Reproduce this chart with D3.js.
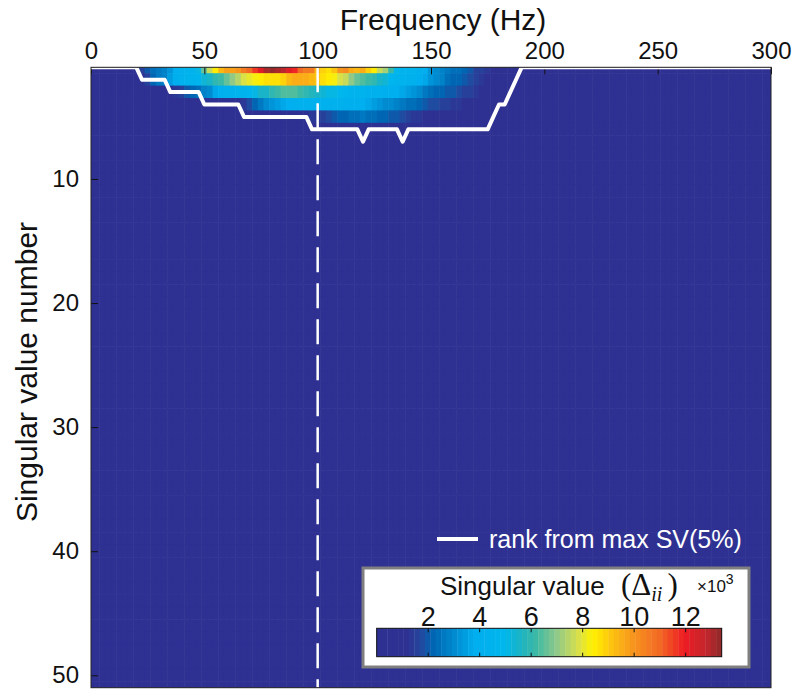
<!DOCTYPE html>
<html>
<head>
<meta charset="utf-8">
<script src="https://cdn.jsdelivr.net/npm/d3@7"></script>
<style>
  body { margin: 0; background: #fff; }
  text { font-family: "Liberation Sans", Arial, Helvetica, sans-serif; fill: #111; }
</style>
</head>
<body>
<svg id="chart" width="793" height="690"></svg>
<script>
// ---- data -------------------------------------------------------------
const freqStep = 2.5;                                   // Hz between bins
const freqs = d3.range(0, 300 + freqStep / 2, freqStep); // bin centres (Hz)
const svNumbers = d3.range(1, 52);                      // singular value index
const bandStart = 15;                                   // Hz of first entry in the rows below
const backgroundSV = 0.4;                               // x10^3, everywhere outside the band

// singular values (x10^3) for SV 1..7, 15 Hz .. 192.5 Hz
const svRow1 = [0.8,0.9,1.2,1.6,2.0,2.4,2.7,2.9,3.2,3.8, 4.2,4.4,4.6,5.2,6.6,7.6,8.5,9.4,9.7,9.8,
  10.0,10.6,10.9,11.6,12.2,13.0,13.4,13.1,12.8,12.2, 11.9,11.0,10.6,10.5,9.3,8.9,8.6,9.2,9.9,10.1,
  9.5,9.3,9.6,8.8,8.5,7.6,7.2,6.1,5.0,4.6, 4.5,4.4,4.1,3.8,3.3,3.0,2.9,2.7,2.5,2.4,
  2.3,1.9,1.6,1.5,1.3,1.1,1.0,0.9,0.85,0.8, 0.75,0.5];
const svRow2 = [0.45,0.5,0.6,1.0,1.6,2.2,2.6,2.9,3.4,4.0, 4.3,4.4,4.5,4.8,5.4,5.6,6.0,6.2,6.6,7.0,
  7.4,7.9,8.1,8.2,8.4,8.6,8.6,8.7,9.0,9.3, 9.5,9.6,9.5,9.4,9.2,8.6,8.5,8.2,7.8,7.6,
  7.1,6.6,6.4,6.2,6.0,5.6,5.3,4.8,4.5,4.4, 4.3,4.2,3.9,3.6,3.3,3.0,2.8,2.5,2.3,2.1,
  2.0,1.7,1.5,1.3,1.1,0.95,0.9,0.85,0.8,0.72, 0.55,0.5];
const svRow3 = [0.4,0.4,0.45,0.45,0.5,0.5,0.55,0.6,0.9,1.3, 1.6,1.9,2.2,2.5,2.8,3.1,3.6,4.0,4.2,4.3,
  4.4,4.5,4.7,5.2,5.5,5.6,5.9,6.1,6.3,6.4, 6.3,6.1,6.0,5.8,5.6,5.4,5.2,5.1,4.9,4.8,
  4.6,4.5,4.4,4.3,4.3,4.2,4.1,4.0,3.9,3.7, 3.4,3.2,3.0,2.7,2.5,2.3,2.1,2.0,1.9,1.8,
  1.6,1.5,1.3,1.2,1.0,0.9,0.85,0.8,0.75,0.6, 0.5,0.45];
const svRow4 = [0.4,0.4,0.4,0.4,0.45,0.45,0.45,0.5,0.5,0.5, 0.55,0.55,0.6,0.6,0.8,0.85,0.9,0.9,0.95,1.0,
  1.1,1.3,1.7,2.2,2.6,3.0,3.3,3.5,3.7,3.9, 4.1,4.2,4.3,4.3,4.3,4.3,4.2,4.2,4.2,4.1,
  4.0,4.0,3.8,3.6,3.5,3.3,3.1,3.0,2.8,2.7, 2.5,2.4,2.2,2.0,1.8,1.7,1.6,1.5,1.4,1.3,
  1.2,1.1,1.0,0.95,0.9,0.85,0.8,0.75,0.6,0.5, 0.45,0.45];
const svRow5 = [0.4,0.4,0.4,0.4,0.4,0.45,0.45,0.45,0.45,0.5, 0.5,0.5,0.5,0.5,0.55,0.55,0.55,0.6,0.6,0.6,
  0.6,0.8,0.85,0.9,0.9,0.95,0.95,1.0,1.0,1.05, 1.1,1.15,1.2,1.3,1.4,1.6,1.8,2.0,2.2,2.3,
  2.4,2.5,2.6,2.5,2.4,2.3,2.2,2.0,1.9,1.7, 1.5,1.4,1.3,1.2,1.15,1.1,1.05,1.0,1.0,0.95,
  0.9,0.9,0.85,0.85,0.8,0.75,0.6,0.55,0.5,0.5, 0.45,0.45];
const svRow6 = [0.4,0.4,0.4,0.4,0.4,0.4,0.4,0.4,0.4,0.4, 0.45,0.45,0.45,0.45,0.45,0.45,0.45,0.45,0.45,0.45,
  0.5,0.5,0.5,0.5,0.5,0.5,0.5,0.5,0.55,0.55, 0.55,0.6,0.6,0.8,0.85,0.9,0.95,1.0,1.0,1.05,
  1.05,1.1,1.1,1.1,1.05,1.0,1.0,0.95,0.95,0.9, 0.9,0.9,0.85,0.85,0.85,0.8,0.8,0.8,0.8,0.78,
  0.78,0.75,0.75,0.72,0.7,0.6,0.55,0.5,0.5,0.45, 0.45,0.45];
const svRow7 = [0.4,0.4,0.4,0.4,0.4,0.4,0.4,0.4,0.4,0.4, 0.42,0.42,0.42,0.42,0.42,0.42,0.42,0.42,0.42,0.42,
  0.45,0.45,0.45,0.45,0.45,0.45,0.45,0.45,0.45,0.45, 0.5,0.5,0.52,0.55,0.55,0.58,0.6,0.6,0.62,0.64,
  0.65,0.66,0.72,0.64,0.62,0.6,0.62,0.64,0.66,0.71, 0.64,0.62,0.6,0.58,0.56,0.55,0.54,0.53,0.52,0.5,
  0.5,0.5,0.48,0.48,0.46,0.45,0.45,0.44,0.42,0.42, 0.4,0.4];
const svRows = [svRow1, svRow2, svRow3, svRow4, svRow5, svRow6, svRow7];

// number of singular values above 5% of the maximum, one per frequency bin
const rankBy5pct = [1,1,1,1,1,1,1,1,1, 2,2,2,2,2, 3,3,3,3,3,3, 4,4,4,4,4,4,4,
  5,5,5,5,5,5,5,5,5,5,5,5, 6,6,6,6,6,6,6,6,6, 7, 6,6,6,6,6,6, 7,
  6,6,6,6,6,6,6,6,6,6,6,6,6,6,6, 5, 4,4, 3, 2,
  1,1,1,1,1,1,1,1,1,1,1,1,1,1,1,1,1,1,1,1,1,1,1,1,1,1,1,1,1,1,1,1,1,1,1,1,1,1,1,1,1,1,1,1,1];

const markerFreq = 100;
const xTicks = [0, 50, 100, 150, 200, 250, 300];
const yTicks = [10, 20, 30, 40, 50];
const cbarTicks = [2, 4, 6, 8, 10, 12];

// ---- scales -----------------------------------------------------------
const svg = d3.select("#chart");
const plot = { left: 91, right: 771, top: 67.3, bottom: 687.7 };
const x = d3.scaleLinear([0, 300], [plot.left, plot.right]);
const y = d3.scaleLinear([1, 51], [plot.top, plot.bottom]);

const svValue = (row, k) => {
  const idx = Math.round((freqs[k] - bandStart) / freqStep);
  if (row <= svRows.length && idx >= 0 && idx < svRows[row - 1].length) return svRows[row - 1][idx];
  return backgroundSV;
};
const cells = [];
svNumbers.forEach(r => freqs.forEach((f, k) => cells.push({ r, f, v: svValue(r, k) })));
const vMax = d3.max(cells, d => d.v);

// jet-style colour ramp, quantised to 64 levels
const stops = [[0,"#2E3192"],[1.2,"#2E3192"],[1.7,"#25479D"],[2.2,"#0066B3"],[3.0,"#0089CF"],
  [3.8,"#00AEEF"],[5.0,"#00B6EC"],[5.6,"#1BB4C4"],[6.2,"#3CB9A6"],[7.0,"#8DC88A"],[7.8,"#D5DE50"],
  [8.4,"#FFF200"],[9.2,"#FDC010"],[10.0,"#F7941D"],[11.0,"#F26A24"],[12.0,"#ED1C24"],
  [12.8,"#C4262C"],[13.43,"#8F2A2A"]];
const ramp = d3.scaleLinear(stops.map(s => s[0] / 13.43), stops.map(s => s[1])).clamp(true);
const nLevels = 64;
const colorOf = v => {
  const lvl = Math.min(nLevels - 1, Math.floor(v / vMax * nLevels));
  return ramp((lvl + 0.5) / nLevels);
};

// ---- heat map -----------------------------------------------------------
svg.append("clipPath").attr("id", "plotClip")
  .append("rect").attr("x", plot.left).attr("y", plot.top)
  .attr("width", plot.right - plot.left).attr("height", plot.bottom - plot.top);

const cw = x(freqStep) - x(0), ch = y(2) - y(1);
const gMap = svg.append("g").attr("clip-path", "url(#plotClip)");
gMap.selectAll("rect").data(cells).join("rect")
  .attr("x", d => x(d.f - freqStep / 2) - 0.3)
  .attr("y", d => y(d.r - 0.5) - 0.3)
  .attr("width", cw + 0.6)
  .attr("height", ch + 0.6)
  .attr("fill", d => colorOf(d.v));

// ---- axes -------------------------------------------------------------
const xAxis = svg.append("g").attr("transform", `translate(0,${plot.top})`)
  .call(d3.axisTop(x).tickValues(xTicks).tickSizeInner(-7).tickSizeOuter(0).tickPadding(8));
const yAxis = svg.append("g").attr("transform", `translate(${plot.left},0)`)
  .call(d3.axisLeft(y).tickValues(yTicks).tickSizeInner(-7).tickSizeOuter(0).tickPadding(12));
[xAxis, yAxis].forEach(g => {
  g.select(".domain").remove();
  g.selectAll(".tick line").attr("stroke", "#111").attr("stroke-width", 1);
  g.selectAll(".tick text").attr("font-size", 24).attr("fill", "#111")
    .attr("font-family", "'Liberation Sans', Arial, sans-serif");
});

// ---- rank line and marker ----------------------------------------------
const gLines = svg.append("g").attr("clip-path", "url(#plotClip)");
gLines.append("path")
  .datum(freqs.map((f, k) => ({ f, r: rankBy5pct[k] })))
  .attr("d", d3.line().x(d => x(d.f)).y(d => y(d.r)))
  .attr("fill", "none").attr("stroke", "#fff").attr("stroke-width", 4)
  .attr("stroke-linejoin", "round");

gLines.append("line")
  .attr("x1", x(markerFreq)).attr("x2", x(markerFreq))
  .attr("y1", plot.top).attr("y2", plot.bottom)
  .attr("stroke", "#fff").attr("stroke-width", 2.5)
  .attr("stroke-dasharray", "25,11");

// frame
svg.append("rect").attr("x", plot.left).attr("y", plot.top)
  .attr("width", plot.right - plot.left).attr("height", plot.bottom - plot.top)
  .attr("fill", "none").attr("stroke", "#222").attr("stroke-width", 1);

// ---- axis titles --------------------------------------------------------
svg.append("text").attr("x", 443).attr("y", 30).attr("text-anchor", "middle")
  .attr("font-size", 30).text("Frequency (Hz)");
svg.append("text").attr("transform", "translate(37,372) rotate(-90)")
  .attr("text-anchor", "middle").attr("font-size", 30).text("Singular value number");

// ---- legend -------------------------------------------------------------
svg.append("line").attr("x1", 437).attr("x2", 478).attr("y1", 539).attr("y2", 539)
  .attr("stroke", "#fff").attr("stroke-width", 4);
svg.append("text").attr("x", 489).attr("y", 548).attr("font-size", 25)
  .style("fill", "#fff").text("rank from max SV(5%)");

// ---- colour bar ---------------------------------------------------------
const cb = { left: 376.7, right: 721.7, top: 628.3, bottom: 656.7 };
svg.append("rect").attr("x", 363).attr("y", 568).attr("width", 386).attr("height", 99)
  .attr("fill", "#fff").attr("stroke", "#7f7f7f").attr("stroke-width", 3);
const cx = d3.scaleLinear([0, vMax], [cb.left, cb.right]);
const levels = d3.range(nLevels);
svg.append("g").selectAll("rect").data(levels).join("rect")
  .attr("x", i => cx(i / nLevels * vMax) - 0.2)
  .attr("width", cx(vMax / nLevels) - cx(0) + 0.4)
  .attr("y", cb.top).attr("height", cb.bottom - cb.top)
  .attr("fill", i => ramp((i + 0.5) / nLevels));
svg.append("rect").attr("x", cb.left).attr("y", cb.top)
  .attr("width", cb.right - cb.left).attr("height", cb.bottom - cb.top)
  .attr("fill", "none").attr("stroke", "#111").attr("stroke-width", 1);
const gcb = svg.append("g");
cbarTicks.forEach(t => {
  gcb.append("line").attr("x1", cx(t)).attr("x2", cx(t)).attr("y1", cb.top).attr("y2", cb.top + 4)
    .attr("stroke", "#111");
  gcb.append("line").attr("x1", cx(t)).attr("x2", cx(t)).attr("y1", cb.bottom).attr("y2", cb.bottom - 4)
    .attr("stroke", "#111");
  gcb.append("text").attr("x", cx(t)).attr("y", 626).attr("text-anchor", "middle")
    .attr("font-size", 27).text(t);
});

const serif = "'Liberation Serif', 'Times New Roman', serif";
const cbTitle = svg.append("text").attr("x", 440).attr("y", 595).attr("font-size", 26);
cbTitle.append("tspan").text("Singular value");
cbTitle.append("tspan").attr("x", 621).attr("font-family", serif).attr("font-size", 31).text("(\u0394");
cbTitle.append("tspan").attr("dy", 6).attr("font-family", serif)
  .attr("font-style", "italic").attr("font-size", 20).text("ii");
cbTitle.append("tspan").attr("dy", -6).attr("dx", 5).attr("font-family", serif)
  .attr("font-size", 31).text(")");

const expo = svg.append("text").attr("x", 697).attr("y", 592).attr("font-size", 17);
expo.append("tspan").text("\u00d710");
expo.append("tspan").attr("dy", -8).attr("font-size", 14).text("3");
</script>
</body>
</html>
